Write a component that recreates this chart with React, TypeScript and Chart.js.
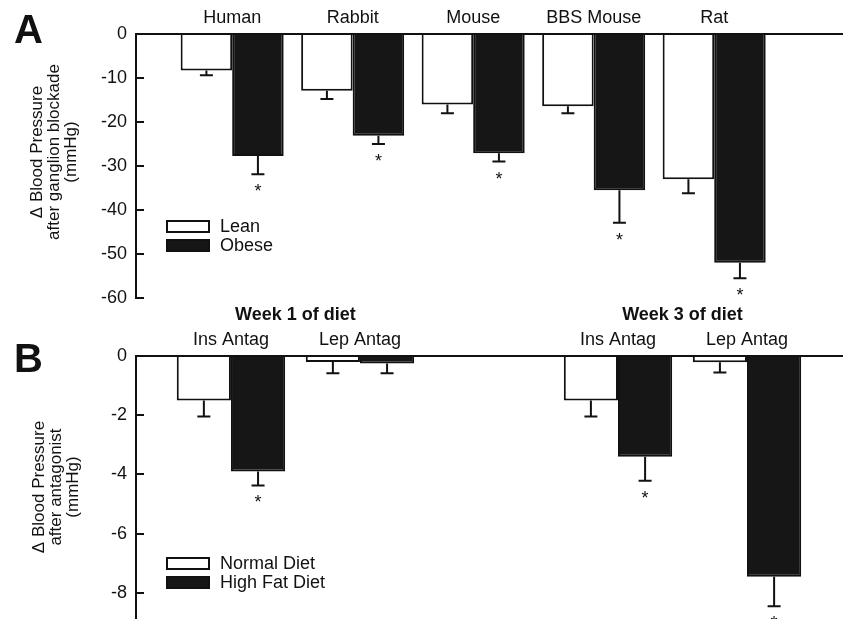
import React, { useEffect, useRef } from 'react';
import { Chart, registerables } from 'chart.js';

Chart.register(...registerables);

const FONT = '"Liberation Sans", Arial, Helvetica, sans-serif';
const INK = '#111111';
const BAR_BLACK = '#161616';

// ---------- Panel A: ganglion blockade ----------
const speciesLabels = ['Human', 'Rabbit', 'Mouse', 'BBS Mouse', 'Rat'];
const speciesPositions = [1, 2, 3, 4, 5];
const leanValues = [-8.3, -12.9, -16.0, -16.4, -33.0];
const leanErrors = [1.1, 1.9, 2.0, 1.6, 3.2];
const obeseValues = [-27.7, -23.1, -27.1, -35.5, -52.0];
const obeseErrors = [4.2, 1.9, 1.9, 7.4, 3.5];
const leanSignificant = [false, false, false, false, false];
const obeseSignificant = [true, true, true, true, true];
const yTicksA = [0, -10, -20, -30, -40, -50, -60];
const yTitleA = ['\u0394 Blood Pressure', 'after ganglion blockade', '(mmHg)'];

// ---------- Panel B: antagonists ----------
const antagLabels = ['Ins Antag', 'Lep Antag', 'Ins Antag', 'Lep Antag'];
const antagPositions = [1, 2, 4, 5];
const weekLabels = ['Week 1 of diet', 'Week 3 of diet'];
const weekPositions = [1.5, 4.5];
const normalDietValues = [-1.5, -0.2, -1.5, -0.21];
const normalDietErrors = [0.54, 0.38, 0.54, 0.35];
const highFatValues = [-3.9, -0.25, -3.4, -7.45];
const highFatErrors = [0.47, 0.33, 0.81, 1.0];
const normalSignificant = [false, false, false, false];
const highFatSignificant = [true, false, true, true];
const yTicksB = [0, -2, -4, -6, -8];
const yTitleB = ['\u0394 Blood Pressure', 'after antagonist', '(mmHg)'];

type OverlayOpts = {
  errors: number[][];
  significant: boolean[][];
  letter: string;
  letterPos: [number, number];
  title: string[];
  titleX: number[];
  titleY: number;
  legendX: number;
  legendY: number[];
  groupLabels?: string[];
  groupPositions?: number[];
  groupY?: number;
};

function makeOverlay(o: OverlayOpts) {
  return {
    id: 'overlay',
    afterDatasetsDraw(chart: any) {
      const ctx = chart.ctx;
      const yScale = chart.scales.y;
      chart.data.datasets.forEach((ds: any, di: number) => {
        const meta = chart.getDatasetMeta(di);
        meta.data.forEach((bar: any, i: number) => {
          const v = ds.data[i].y;
          const yStart = yScale.getPixelForValue(v);
          const yEnd = yScale.getPixelForValue(v - o.errors[di][i]);
          ctx.save();
          ctx.strokeStyle = INK;
          ctx.lineWidth = 2;
          ctx.beginPath();
          ctx.moveTo(bar.x, yStart);
          ctx.lineTo(bar.x, yEnd);
          ctx.moveTo(bar.x - 6.5, yEnd);
          ctx.lineTo(bar.x + 6.5, yEnd);
          ctx.stroke();
          if (o.significant[di][i]) {
            ctx.fillStyle = INK;
            ctx.font = `18px ${FONT}`;
            ctx.textAlign = 'center';
            ctx.textBaseline = 'alphabetic';
            ctx.fillText('*', bar.x, yEnd + 23);
          }
          ctx.restore();
        });
      });
    },
    afterDraw(chart: any) {
      const ctx = chart.ctx;
      const area = chart.chartArea;
      const yScale = chart.scales.y;
      const xScale = chart.scales.x;
      ctx.save();
      // inward tick marks
      ctx.strokeStyle = INK;
      ctx.lineWidth = 2;
      ctx.beginPath();
      yScale.ticks.forEach((t: any) => {
        const y = Math.round(yScale.getPixelForValue(t.value));
        ctx.moveTo(area.left, y);
        ctx.lineTo(area.left + 8, y);
      });
      ctx.stroke();
      // panel letter
      ctx.fillStyle = INK;
      ctx.font = `bold 40px ${FONT}`;
      ctx.textAlign = 'left';
      ctx.textBaseline = 'alphabetic';
      ctx.fillText(o.letter, o.letterPos[0], o.letterPos[1]);
      // y title
      ctx.font = `17px ${FONT}`;
      ctx.textAlign = 'center';
      ctx.textBaseline = 'middle';
      o.title.forEach((line, i) => {
        ctx.save();
        ctx.translate(o.titleX[i], o.titleY);
        ctx.rotate(-Math.PI / 2);
        ctx.fillText(line, 0, 0);
        ctx.restore();
      });
      // group labels
      if (o.groupLabels && o.groupPositions) {
        ctx.font = `bold 18px ${FONT}`;
        o.groupLabels.forEach((g, i) => {
          ctx.fillText(g, xScale.getPixelForValue(o.groupPositions![i]), o.groupY!);
        });
      }
      // legend
      ctx.font = `18px ${FONT}`;
      ctx.textAlign = 'left';
      chart.data.datasets.forEach((ds: any, i: number) => {
        const y = o.legendY[i];
        ctx.fillStyle = ds.backgroundColor;
        ctx.fillRect(o.legendX, y, 44, 13);
        ctx.strokeStyle = INK;
        ctx.lineWidth = 2;
        ctx.strokeRect(o.legendX + 1, y + 1, 42, 11);
        ctx.fillStyle = INK;
        ctx.fillText(ds.label, o.legendX + 54, y + 7);
      });
      ctx.restore();
    },
  };
}

function baseOptions(p: {
  xMin: number; xMax: number; yMin: number; topHeight: number; bottomPad: number;
  positions: number[]; labels: string[]; yTicks: number[]; catPct: number; labelPad: number;
}) {
  return {
    responsive: false,
    animation: false,
    events: [],
    layout: { padding: { left: 0, right: 0, top: 0, bottom: p.bottomPad } },
    plugins: { legend: { display: false }, tooltip: { enabled: false }, title: { display: false } },
    datasets: { bar: { categoryPercentage: p.catPct, barPercentage: 1 } },
    scales: {
      x: {
        type: 'linear',
        position: 'top',
        min: p.xMin,
        max: p.xMax,
        offset: false,
        grid: { display: false, drawTicks: false },
        border: { display: true, color: INK, width: 2, z: 1 },
        ticks: {
          font: { family: FONT, size: 18 },
          color: INK,
          padding: p.labelPad,
          autoSkip: false,
          maxRotation: 0,
          minRotation: 0,
          callback: (v: number) => {
            const idx = p.positions.indexOf(v);
            return idx >= 0 ? p.labels[idx] : '';
          },
        },
        afterBuildTicks: (s: any) => { s.ticks = p.positions.map((v) => ({ value: v })); },
        afterFit: (s: any) => { s.height = p.topHeight; s.paddingLeft = 0; s.paddingRight = 0; },
      },
      y: {
        type: 'linear',
        min: p.yMin,
        max: 0,
        grid: { display: false, drawTicks: false },
        border: { display: true, color: INK, width: 2 },
        ticks: { font: { family: FONT, size: 18 }, color: INK, padding: 9 },
        afterBuildTicks: (s: any) => { s.ticks = p.yTicks.map((v) => ({ value: v })); },
        afterFit: (s: any) => { s.width = 136; s.paddingTop = 0; s.paddingBottom = 0; },
      },
    },
  };
}

export default function App() {
  const refA = useRef<HTMLCanvasElement>(null);
  const refB = useRef<HTMLCanvasElement>(null);

  useEffect(() => {
    const chartA = new Chart(refA.current as HTMLCanvasElement, {
      type: 'bar',
      data: {
        datasets: [
          {
            label: 'Lean',
            data: speciesPositions.map((x, i) => ({ x, y: leanValues[i] })),
            backgroundColor: '#ffffff',
            borderColor: INK,
            borderWidth: 2,
          },
          {
            label: 'Obese',
            data: speciesPositions.map((x, i) => ({ x, y: obeseValues[i] })),
            backgroundColor: BAR_BLACK,
            borderColor: INK,
            borderWidth: 2,
          },
        ],
      } as any,
      options: baseOptions({
        xMin: 0.202, xMax: 6.069, yMin: -60, topHeight: 34, bottomPad: 22,
        positions: speciesPositions, labels: speciesLabels, yTicks: yTicksA, catPct: 0.855, labelPad: 5,
      }) as any,
      plugins: [
        makeOverlay({
          errors: [leanErrors, obeseErrors],
          significant: [leanSignificant, obeseSignificant],
          letter: 'A', letterPos: [14, 43],
          title: yTitleA, titleX: [37, 54, 71], titleY: 152,
          legendX: 166, legendY: [220, 239],
        }),
      ],
    });

    const chartB = new Chart(refB.current as HTMLCanvasElement, {
      type: 'bar',
      data: {
        datasets: [
          {
            label: 'Normal Diet',
            data: antagPositions.map((x, i) => ({ x, y: normalDietValues[i] })),
            backgroundColor: '#ffffff',
            borderColor: INK,
            borderWidth: 2,
          },
          {
            label: 'High Fat Diet',
            data: antagPositions.map((x, i) => ({ x, y: highFatValues[i] })),
            backgroundColor: BAR_BLACK,
            borderColor: INK,
            borderWidth: 2,
          },
        ],
      } as any,
      options: baseOptions({
        xMin: 0.264, xMax: 5.744, yMin: -8.88, topHeight: 56, bottomPad: 0,
        positions: antagPositions, labels: antagLabels, yTicks: yTicksB, catPct: 0.84, labelPad: 5,
      }) as any,
      plugins: [
        makeOverlay({
          errors: [normalDietErrors, highFatErrors],
          significant: [normalSignificant, highFatSignificant],
          letter: 'B', letterPos: [14, 72],
          title: yTitleB, titleX: [39, 56, 73], titleY: 187,
          legendX: 166, legendY: [257, 276],
          groupLabels: weekLabels, groupPositions: weekPositions, groupY: 15,
        }),
      ],
    });

    return () => {
      chartA.destroy();
      chartB.destroy();
    };
  }, []);

  return (
    <div style={{ position: 'fixed', left: 0, top: 0, width: 843, height: 619, background: '#fff', overflow: 'hidden' }}>
      <canvas ref={refA} width={843} height={320} style={{ position: 'absolute', left: 0, top: 0, width: 843, height: 320 }} />
      <canvas ref={refB} width={843} height={319} style={{ position: 'absolute', left: 0, top: 300, width: 843, height: 319 }} />
    </div>
  );
}
